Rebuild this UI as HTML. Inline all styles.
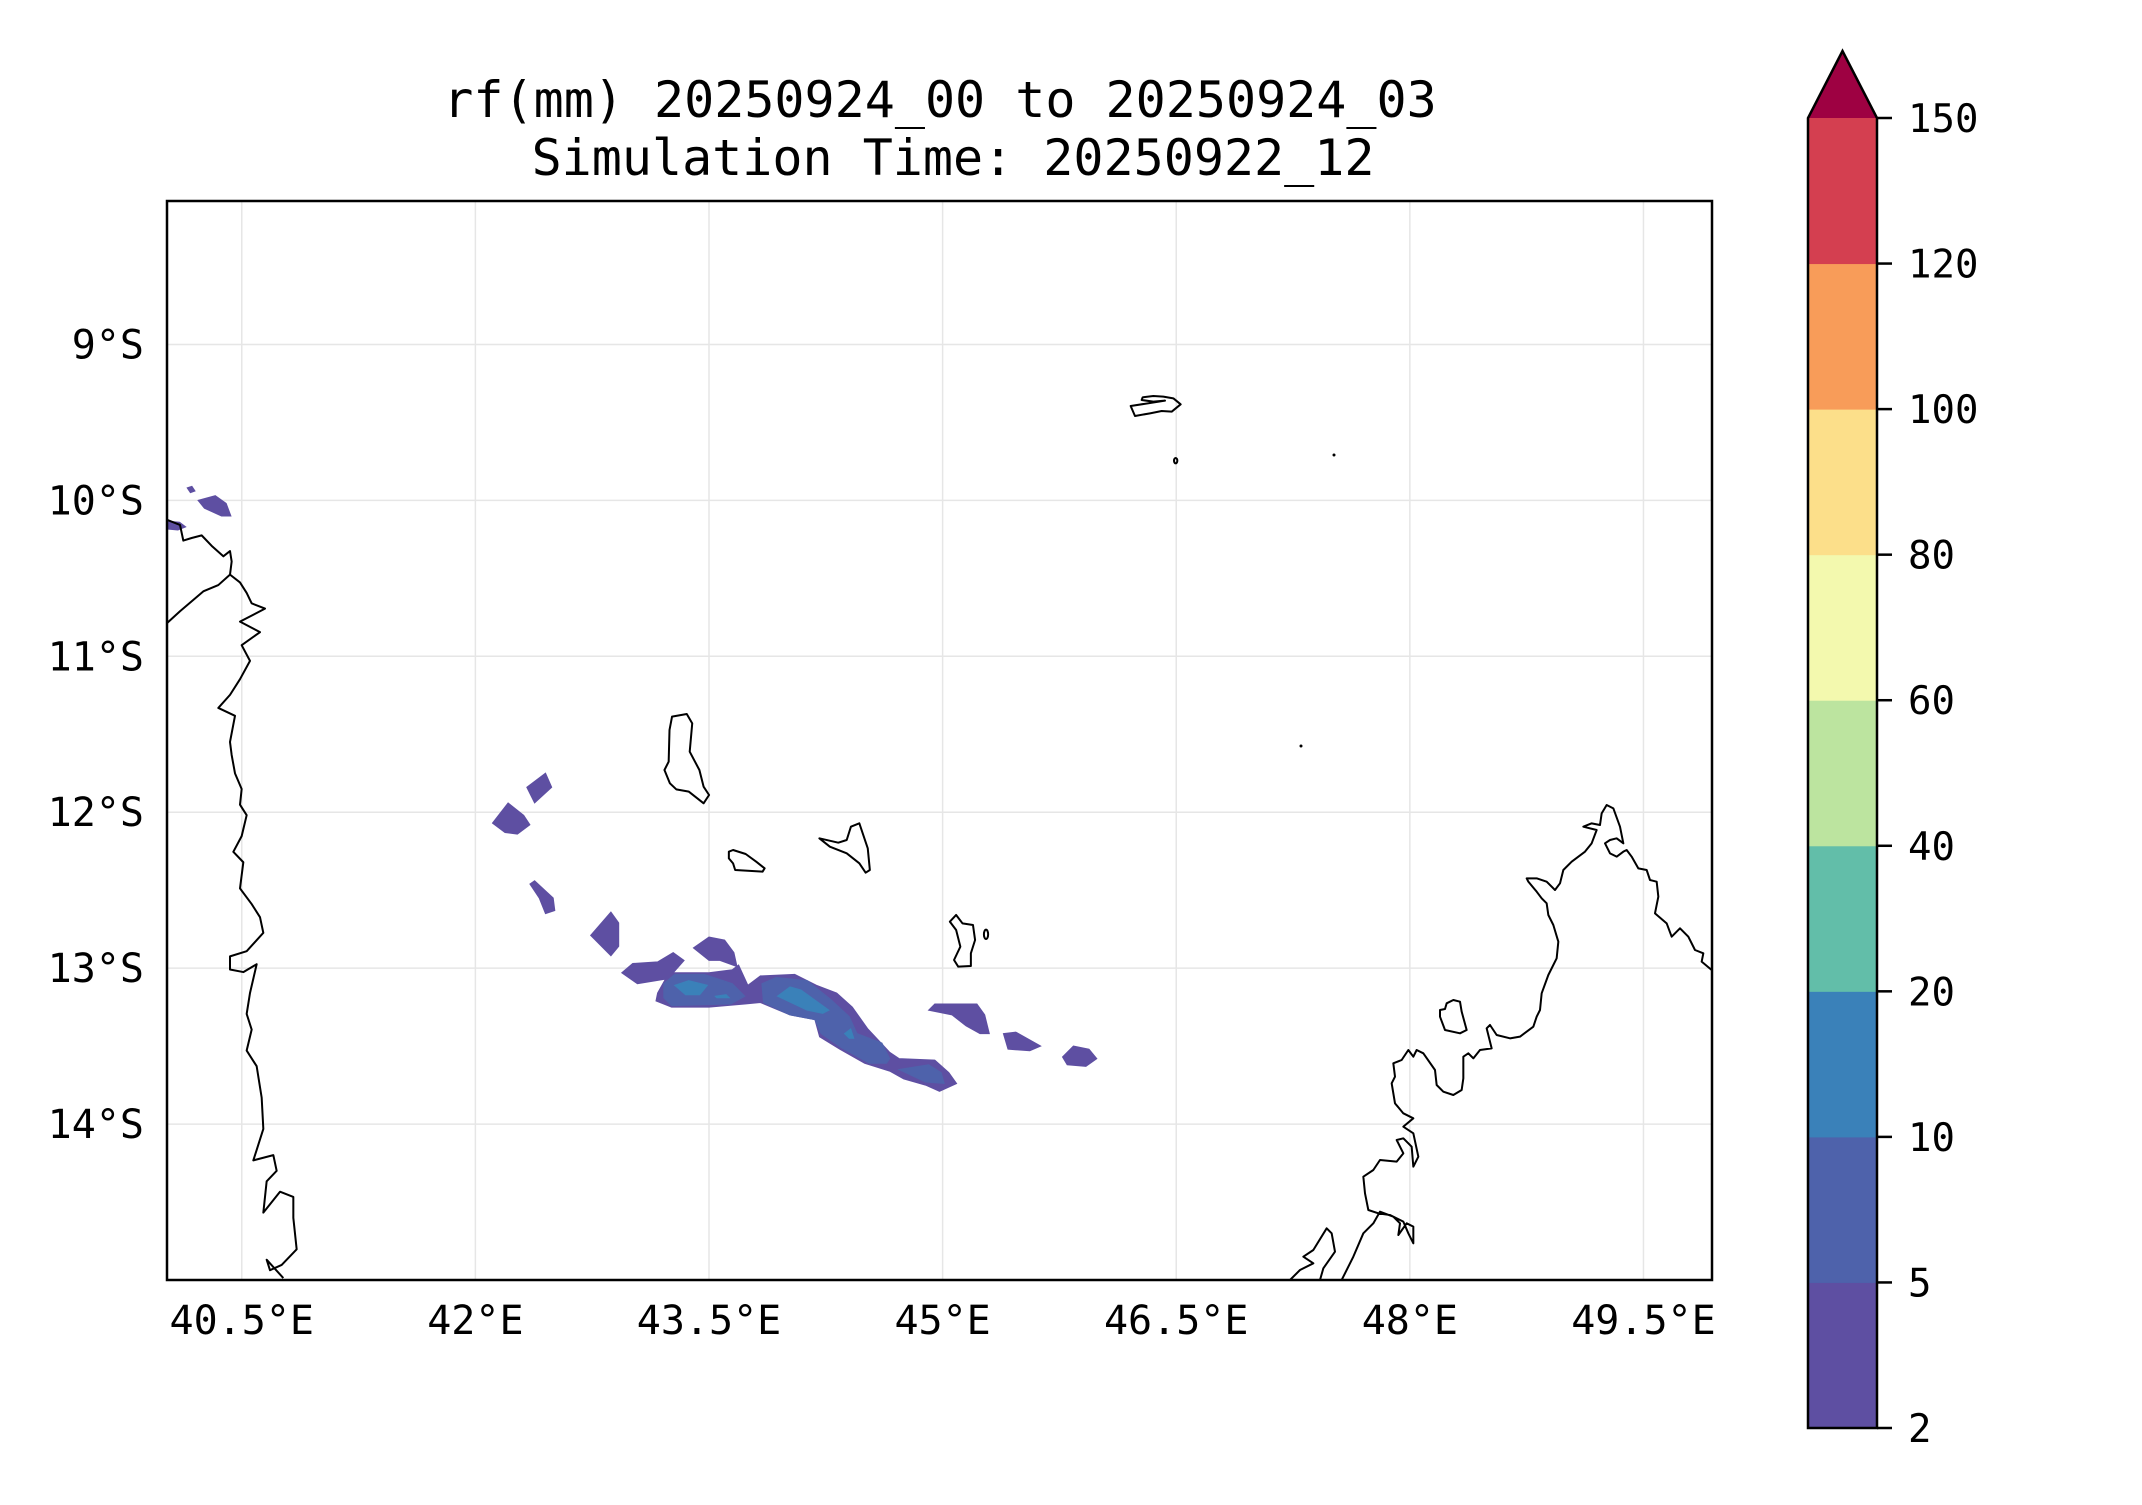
<!DOCTYPE html>
<html><head><meta charset="utf-8"><style>
html,body{margin:0;padding:0;background:#fff;}
svg text{font-family:"DejaVu Sans Mono","Liberation Mono",monospace;fill:#000;}
.cl *{vector-effect:non-scaling-stroke;}
</style></head><body>
<svg id="chart" width="2142" height="1500" viewBox="0 0 2142 1500" xmlns="http://www.w3.org/2000/svg">
<rect width="2142" height="1500" fill="#fff"/>
<text x="940" y="117" font-size="50" text-anchor="middle">rf(mm) 20250924_00 to 20250924_03</text>
<text x="953" y="175" font-size="50" text-anchor="middle">Simulation Time: 20250922_12</text>
<defs><clipPath id="plotclip"><rect x="167" y="201" width="1545" height="1079"/></clipPath></defs>
<g id="grid"></g>
<g id="rain" clip-path="url(#plotclip)"></g>
<g class="cl" clip-path="url(#plotclip)" fill="none" stroke="#000" stroke-width="2" stroke-linejoin="round">
 <g transform="translate(160,470) scale(0.33333,0.523)">
  <polyline points="20,95 60,105 70,135 95,130 125,125 155,145 190,165 210,155 215,175 210,200 240,215 260,235 275,255 315,265 240,290 300,310 245,335 270,365 240,400 210,430 175,455 225,470 210,520 215,545 225,580 245,610 240,640 260,660 245,700 220,730 250,750 240,800 275,830 300,855 310,885 260,920 210,930 210,955 250,960 290,945 270,1000 260,1040 275,1070 260,1110 290,1140 305,1200 310,1260 290,1300 280,1320 340,1310 350,1340 320,1360 310,1420 360,1380 400,1390 400,1430 410,1490 365,1520 330,1530 320,1510 370,1545"/>
  <polyline points="0,305 60,270 130,232 175,220 210,200"/>
 </g>
 <g transform="translate(1280,790) scale(0.33333)">
  <polyline points="185,1470 220,1400 250,1330 280,1300 300,1265 340,1280 360,1300 355,1335 380,1300 400,1310 400,1360 385,1330 370,1295 330,1275 295,1270 265,1260 255,1210 250,1160 280,1140 300,1110 350,1115 370,1090 350,1050 370,1045 395,1070 400,1130 415,1100 400,1030 370,1010 400,985 370,970 345,940 335,880 345,860 340,820 365,810 385,780 400,800 410,780 430,790 465,840 470,885 490,905 520,915 545,900 550,865 550,800 565,790 580,805 600,780 635,775 620,715 630,705 650,735 690,745 720,740 760,710 770,680 780,660 785,610 805,555 830,505 835,455 820,405 805,375 800,340 785,325 770,305 745,275 740,265 770,265 800,275 825,300 840,280 850,240 875,215 895,200 915,185 935,160 950,120 910,110 935,100 960,105 965,70 980,45 1000,55 1020,110 1030,160 1010,145 990,150 975,160 990,190 1010,200 1030,185 1040,180 1055,200 1075,235 1100,240 1110,270 1130,275 1135,320 1125,370 1160,400 1175,440 1200,415 1225,440 1245,480 1270,490 1265,515 1295,540"/>
  <polyline points="30,1470 60,1440 100,1420 70,1400 100,1380 140,1315 155,1330 165,1385 130,1435 120,1470"/>
  <polygon points="480,660 495,657 500,640 520,630 540,635 545,665 560,720 540,730 495,720 480,680"/>
 </g>
 <g transform="translate(470,690) scale(0.4209,0.33333)">
  <polygon points="480,80 515,72 528,100 522,185 545,240 555,290 568,315 555,340 540,325 520,305 490,298 475,280 462,240 472,215 474,120"/>
  <polygon points="615,485 625,480 655,492 680,515 700,535 695,545 630,540 625,520 615,505"/>
  <polygon points="830,445 875,458 895,450 905,410 925,400 945,475 950,540 940,548 925,520 895,490 855,470"/>
  <polygon points="1140,695 1155,675 1170,700 1195,705 1200,750 1190,790 1190,828 1160,830 1150,810 1165,770 1155,720"/>
  <ellipse cx="1226" cy="733" rx="5" ry="14"/>
 </g>
 <g transform="translate(1100,380) scale(0.33333)">
  <polygon points="92,78 105,108 150,100 185,93 215,95 242,73 220,55 190,50 160,48 128,52 125,60 160,65 195,62"/>
  <ellipse cx="227" cy="242" rx="5" ry="8"/>
 </g>
 <circle cx="1334" cy="455" r="1.5" fill="#000" stroke="none"/>
 <circle cx="1301" cy="746" r="1.5" fill="#000" stroke="none"/>
</g>
<rect x="167" y="201" width="1545" height="1079" fill="none" stroke="#000" stroke-width="2.5"/>
<g id="xlabels"></g>
<g id="ylabels"></g>
<g id="cbar"></g>
</svg>
<script>
const lonTicks=[40.5,42,43.5,45,46.5,48,49.5];
const lonTickLabels=["40.5°E","42°E","43.5°E","45°E","46.5°E","48°E","49.5°E"];
const latTicks=[-9,-10,-11,-12,-13,-14];
const latTickLabels=["9°S","10°S","11°S","12°S","13°S","14°S"];
const cbarLevels=[2,5,10,20,40,60,80,100,120,150];
const cbarColors=["#5e4fa2","#4e62ab","#3a81b9","#62bea9","#bce49f","#f3f9ae","#fcdf8a","#f89c59","#d43f50"];
const cbarExtendColor="#9e0142";
const rainLevel1=[
 [[42.94,-13.03],[43.01,-12.97],[43.17,-12.96],[43.27,-12.90],[43.34,-12.95],[43.27,-13.03],[43.50,-13.03],[43.65,-13.01],[43.69,-12.98],[43.75,-13.11],[43.83,-13.05],[44.05,-13.04],[44.19,-13.11],[44.32,-13.16],[44.42,-13.25],[44.52,-13.39],[44.66,-13.54],[44.72,-13.58],[44.95,-13.59],[45.04,-13.67],[45.09,-13.74],[44.98,-13.79],[44.89,-13.75],[44.75,-13.71],[44.66,-13.66],[44.50,-13.61],[44.34,-13.52],[44.21,-13.44],[44.18,-13.33],[44.02,-13.30],[43.83,-13.22],[43.73,-13.23],[43.50,-13.25],[43.26,-13.25],[43.16,-13.21],[43.17,-13.16],[43.22,-13.07],[43.04,-13.10]],
 [[44.91,-13.27],[44.95,-13.23],[45.22,-13.23],[45.27,-13.30],[45.30,-13.42],[45.24,-13.42],[45.15,-13.37],[45.06,-13.30]],
 [[45.39,-13.42],[45.47,-13.41],[45.63,-13.50],[45.56,-13.53],[45.42,-13.52]],
 [[45.77,-13.57],[45.84,-13.50],[45.94,-13.52],[45.99,-13.58],[45.92,-13.63],[45.80,-13.62]],
 [[42.33,-11.84],[42.45,-11.75],[42.49,-11.84],[42.38,-11.94]],
 [[42.11,-12.07],[42.21,-11.94],[42.31,-12.02],[42.35,-12.08],[42.27,-12.14],[42.19,-12.13]],
 [[42.35,-12.46],[42.38,-12.44],[42.50,-12.55],[42.51,-12.63],[42.45,-12.65],[42.41,-12.55]],
 [[42.74,-12.79],[42.87,-12.64],[42.92,-12.71],[42.92,-12.86],[42.87,-12.92]],
 [[43.40,-12.87],[43.50,-12.80],[43.60,-12.82],[43.66,-12.90],[43.68,-12.99],[43.57,-12.95],[43.50,-12.95]],
 [[40.22,-10.00],[40.33,-9.97],[40.40,-10.02],[40.43,-10.10],[40.37,-10.10],[40.26,-10.05]],
 [[40.15,-9.92],[40.18,-9.91],[40.20,-9.94],[40.17,-9.95]],
 [[39.98,-10.13],[40.10,-10.14],[40.14,-10.17],[40.09,-10.19],[39.98,-10.18]]
];
const rainLevel2=[
 [[43.21,-13.10],[43.28,-13.04],[43.47,-13.04],[43.65,-13.10],[43.73,-13.18],[43.64,-13.23],[43.26,-13.24],[43.21,-13.19]],
 [[43.84,-13.10],[43.93,-13.06],[44.13,-13.08],[44.28,-13.20],[44.40,-13.31],[44.45,-13.42],[44.61,-13.48],[44.66,-13.58],[44.64,-13.61],[44.53,-13.61],[44.35,-13.51],[44.22,-13.42],[44.18,-13.33],[44.02,-13.30],[43.85,-13.22]],
 [[44.72,-13.65],[44.91,-13.62],[44.99,-13.67],[45.01,-13.74],[44.89,-13.73]]
];
const rainLevel3=[
 [[43.28,-13.11],[43.37,-13.08],[43.49,-13.11],[43.44,-13.17],[43.35,-13.17]],
 [[43.54,-13.18],[43.61,-13.17],[43.63,-13.19],[43.55,-13.19]],
 [[43.94,-13.18],[44.02,-13.12],[44.09,-13.14],[44.27,-13.27],[44.23,-13.29],[44.13,-13.27]],
 [[44.37,-13.42],[44.41,-13.39],[44.43,-13.45],[44.40,-13.45]]
];
const NS="http://www.w3.org/2000/svg";
const X0=167,X1=1712,Y0=201,Y1=1280,LON0=40.02,LON1=49.94,LAT0=-8.08,LAT1=-15.0;
function xScale(lon){return X0+(lon-LON0)/(LON1-LON0)*(X1-X0);}
function yScale(lat){return Y0+(LAT0-lat)/(LAT0-LAT1)*(Y1-Y0);}
const grid=document.getElementById('grid');
lonTicks.forEach((v,i)=>{
 const l=document.createElementNS(NS,'line');
 
 
 l.setAttribute('x1',xScale(v));l.setAttribute('x2',xScale(v));l.setAttribute('y1',Y0);l.setAttribute('y2',Y1);
 l.setAttribute('stroke','#e6e6e6');l.setAttribute('stroke-width','1.5');grid.appendChild(l);
 const t=document.createElementNS(NS,'text');
 
 
 t.setAttribute('x',xScale(v));t.setAttribute('y',1334);t.setAttribute('font-size','40');t.setAttribute('text-anchor','middle');
 t.textContent=lonTickLabels[i];document.getElementById('xlabels').appendChild(t);
});
latTicks.forEach((v,i)=>{
 const l=document.createElementNS(NS,'line');
 
 
 l.setAttribute('x1',X0);l.setAttribute('x2',X1);l.setAttribute('y1',yScale(v));l.setAttribute('y2',yScale(v));
 l.setAttribute('stroke','#e6e6e6');l.setAttribute('stroke-width','1.5');grid.appendChild(l);
 const t=document.createElementNS(NS,'text');
 
 
 t.setAttribute('x',144);t.setAttribute('y',yScale(v)+14);t.setAttribute('font-size','40');t.setAttribute('text-anchor','end');
 t.textContent=latTickLabels[i];document.getElementById('ylabels').appendChild(t);
});
const rain=document.getElementById('rain');
[[rainLevel1,0],[rainLevel2,1],[rainLevel3,2]].forEach(([polys,ci])=>{
 polys.forEach(p=>{
  const g=document.createElementNS(NS,'polygon');
  
  
  g.setAttribute('points',p.map(q=>xScale(q[0]).toFixed(1)+','+yScale(q[1]).toFixed(1)).join(' '));
  g.setAttribute('fill',cbarColors[ci]);g.setAttribute('stroke',cbarColors[ci]);g.setAttribute('stroke-width','1');
  rain.appendChild(g);
 });
});
const cb=document.getElementById('cbar');
const CBX=1808,CBW=69,CBT=118,CBB=1428,n=cbarLevels.length-1,seg=(CBB-CBT)/n;
function cbY(i){return CBB-i*seg;}
for(let i=0;i<n;i++){
 const r=document.createElementNS(NS,'rect');
 
 
 r.setAttribute('x',CBX);r.setAttribute('y',cbY(i+1));r.setAttribute('width',CBW);r.setAttribute('height',seg+0.5);
 r.setAttribute('fill',cbarColors[i]);cb.appendChild(r);
}
const tri=document.createElementNS(NS,'polygon');


tri.setAttribute('points',`${CBX},${CBT} ${CBX+CBW/2},51 ${CBX+CBW},${CBT}`);
tri.setAttribute('fill',cbarExtendColor);cb.appendChild(tri);
const outline=document.createElementNS(NS,'polygon');


outline.setAttribute('points',`${CBX},${CBB} ${CBX},${CBT} ${CBX+CBW/2},51 ${CBX+CBW},${CBT} ${CBX+CBW},${CBB}`);
outline.setAttribute('fill','none');outline.setAttribute('stroke','#000');outline.setAttribute('stroke-width','2.5');cb.appendChild(outline);
cbarLevels.forEach((v,i)=>{
 const l=document.createElementNS(NS,'line');
 
 
 l.setAttribute('x1',CBX+CBW);l.setAttribute('x2',CBX+CBW+15);l.setAttribute('y1',cbY(i));l.setAttribute('y2',cbY(i));
 l.setAttribute('stroke','#000');l.setAttribute('stroke-width','2.5');cb.appendChild(l);
 const t=document.createElementNS(NS,'text');
 
 
 t.setAttribute('x',1908);t.setAttribute('y',cbY(i)+14);t.setAttribute('font-size','39');
 t.textContent=v;cb.appendChild(t);
});
</script>
</body></html>
